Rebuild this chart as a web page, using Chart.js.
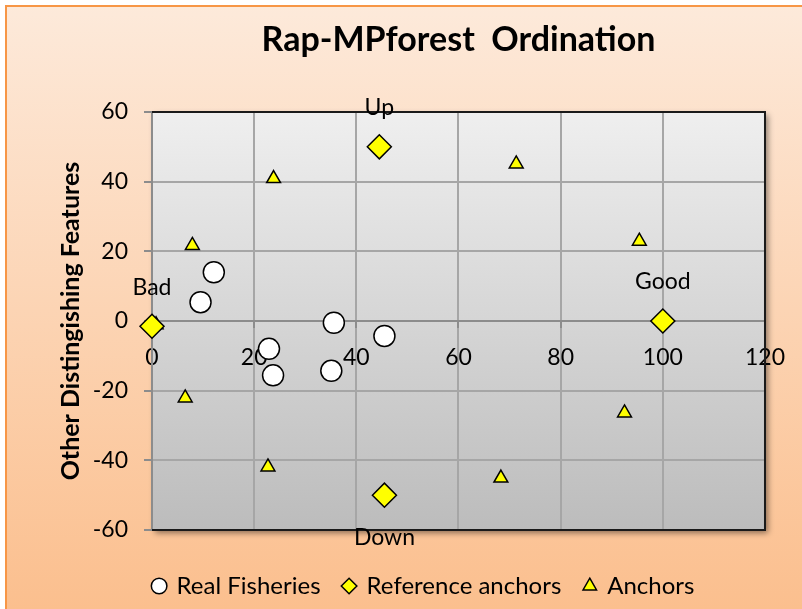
<!DOCTYPE html>
<html>
<head>
<meta charset="utf-8">
<script src="https://cdn.jsdelivr.net/npm/chart.js@4"></script>
<style>
  body { margin: 0; background: #fff; }
  #wrap { width: 802px; height: 609px; }
</style>
</head>
<body>
<div id="wrap"><canvas id="ordination" width="802" height="609"></canvas></div>
<script>
// --- datos ---
const fisheriesX = [12.1, 9.5, 35.6, 45.5, 22.9, 23.7, 35.1];
const fisheriesY = [14.0, 5.4, -0.5, -4.3, -8.0, -15.6, -14.3];

const refNames = ['Bad', 'Up', 'Good', 'Down'];
const refX = [0, 44.5, 100, 45.5];
const refY = [-1.5, 50, 0, -50];

const anchorX = [0.8, 7.9, 23.8, 71.3, 95.4, 6.5, 22.7, 68.3, 92.5];
const anchorY = [-1.1, 21.7, 40.9, 45.1, 22.9, -22.1, -41.9, -45.1, -26.4];

const seriesNames = ['Real Fisheries', 'Reference anchors', 'Anchors'];
const xRange = [0, 120];
const yRange = [-60, 60];
const tickStep = 20;

const FONT = 'Lato';

const toPoints = (xs, ys) => xs.map((x, i) => ({ x: x, y: ys[i] }));

// fondo naranja, borde y area de trazado gris con sombra
const backgrounds = {
    id: 'backgrounds',
    beforeDraw(chart) {
        const { ctx, width, height, chartArea: a } = chart;
        ctx.save();
        ctx.fillStyle = '#fff';
        ctx.fillRect(0, 0, width, height);
        const g = ctx.createLinearGradient(0, 0, 0, height);
        g.addColorStop(0, '#fdeadb');
        g.addColorStop(1, '#fbbf8e');
        ctx.fillStyle = g;
        ctx.fillRect(7, 7, width, height);
        ctx.strokeStyle = '#f79646';
        ctx.lineWidth = 2;
        ctx.strokeRect(6, 6, width + 10, height + 10);

        const p = ctx.createLinearGradient(0, a.top, 0, a.bottom);
        p.addColorStop(0, '#efefef');
        p.addColorStop(1, '#bcbcbc');
        ctx.shadowColor = 'rgba(0,0,0,0.45)';
        ctx.shadowBlur = 6;
        ctx.shadowOffsetX = 3;
        ctx.shadowOffsetY = 3;
        ctx.fillStyle = p;
        ctx.fillRect(a.left, a.top, a.width, a.height);
        ctx.restore();
    },
    beforeDatasetsDraw(chart) {
        const { ctx, chartArea: a } = chart;
        ctx.save();
        ctx.strokeStyle = '#1a1a1a';
        ctx.lineWidth = 2;
        ctx.beginPath();
        ctx.moveTo(a.left, a.top);
        ctx.lineTo(a.right, a.top);
        ctx.lineTo(a.right, a.bottom);
        ctx.lineTo(a.left, a.bottom);
        ctx.stroke();
        ctx.restore();
    }
};

// etiquetas Up / Down / Good / Bad junto a los anclajes de referencia
const anchorLabels = {
    id: 'anchorLabels',
    afterDatasetsDraw(chart) {
        const { ctx } = chart;
        const meta = chart.getDatasetMeta(1);
        ctx.save();
        ctx.font = `23px ${FONT}`;
        ctx.fillStyle = '#000';
        ctx.textAlign = 'center';
        ctx.textBaseline = 'middle';
        meta.data.forEach((pt, i) => {
            const dy = refNames[i] === 'Down' ? 42 : -39;
            ctx.fillText(refNames[i], pt.x, pt.y + dy);
        });
        ctx.restore();
    }
};

const tickFont = { family: FONT, size: 23 };

new Chart(document.getElementById('ordination'), {
    type: 'scatter',
    data: {
        datasets: [
            {
                label: seriesNames[0],
                data: toPoints(fisheriesX, fisheriesY),
                pointStyle: 'circle',
                pointRadius: 10.5,
                backgroundColor: '#ffffff',
                borderColor: '#000',
                borderWidth: 1.5,
                clip: false,
                xAxisID: 'x', yAxisID: 'y'
            },
            {
                label: seriesNames[1],
                data: toPoints(refX, refY),
                pointStyle: 'rectRot',
                pointRadius: 12,
                backgroundColor: '#ffff00',
                borderColor: '#000',
                borderWidth: 1.5,
                clip: false,
                xAxisID: 'x', yAxisID: 'y'
            },
            {
                label: seriesNames[2],
                data: toPoints(anchorX, anchorY),
                pointStyle: 'triangle',
                pointRadius: 8,
                backgroundColor: '#ffff00',
                borderColor: '#000',
                borderWidth: 1.5,
                clip: false,
                xAxisID: 'x', yAxisID: 'y'
            }
        ]
    },
    options: {
        responsive: false,
        animation: false,
        layout: { padding: { left: 46, right: 0, top: 0, bottom: 1 } },
        plugins: {
            title: {
                display: true,
                text: 'Rap-MPforest  Ordination',
                fullSize: false,
                color: '#000',
                font: { family: FONT, size: 34, weight: 'bold' },
                padding: { top: 20, bottom: 51.2 }
            },
            legend: {
                position: 'bottom',
                labels: {
                    usePointStyle: true,
                    boxWidth: 11,
                    boxHeight: 11,
                    padding: 23,
                    color: '#000',
                    font: { family: FONT, size: 24 }
                }
            },
            tooltip: { enabled: false }
        },
        scales: {
            x: {
                type: 'linear',
                position: { y: 0 },
                min: xRange[0],
                max: xRange[1],
                ticks: { stepSize: tickStep, padding: 17, color: '#000', font: tickFont, maxRotation: 0 },
                grid: { color: '#a6a6a6', lineWidth: 2, tickLength: 6, tickColor: '#8c8c8c' },
                border: { color: '#8c8c8c', width: 2 }
            },
            y: {
                type: 'linear',
                position: 'left',
                min: yRange[0],
                max: yRange[1],
                ticks: { stepSize: tickStep, padding: 16, color: '#000', font: tickFont },
                grid: { color: '#a6a6a6', lineWidth: 2, tickLength: 8, tickColor: '#8c8c8c' },
                border: { color: '#8c8c8c', width: 2 },
                title: {
                    display: true,
                    text: 'Other Distingishing Features',
                    color: '#000',
                    font: { family: FONT, size: 25, weight: 'bold' },
                    padding: { top: 10, bottom: 0 }
                },
                afterFit(s) { s.width = 106; }
            },
            // margenes: espacio a la derecha y entre el grafico y la leyenda
            padRight: {
                type: 'linear',
                position: 'right',
                grid: { display: false },
                ticks: { display: false },
                border: { display: false },
                afterFit(s) { s.width = 36; }
            },
            padBottom: {
                type: 'linear',
                position: 'bottom',
                grid: { display: false },
                ticks: { display: false },
                border: { display: false },
                afterFit(s) { s.height = 21; }
            }
        }
    },
    plugins: [backgrounds, anchorLabels]
});
</script>
</body>
</html>
